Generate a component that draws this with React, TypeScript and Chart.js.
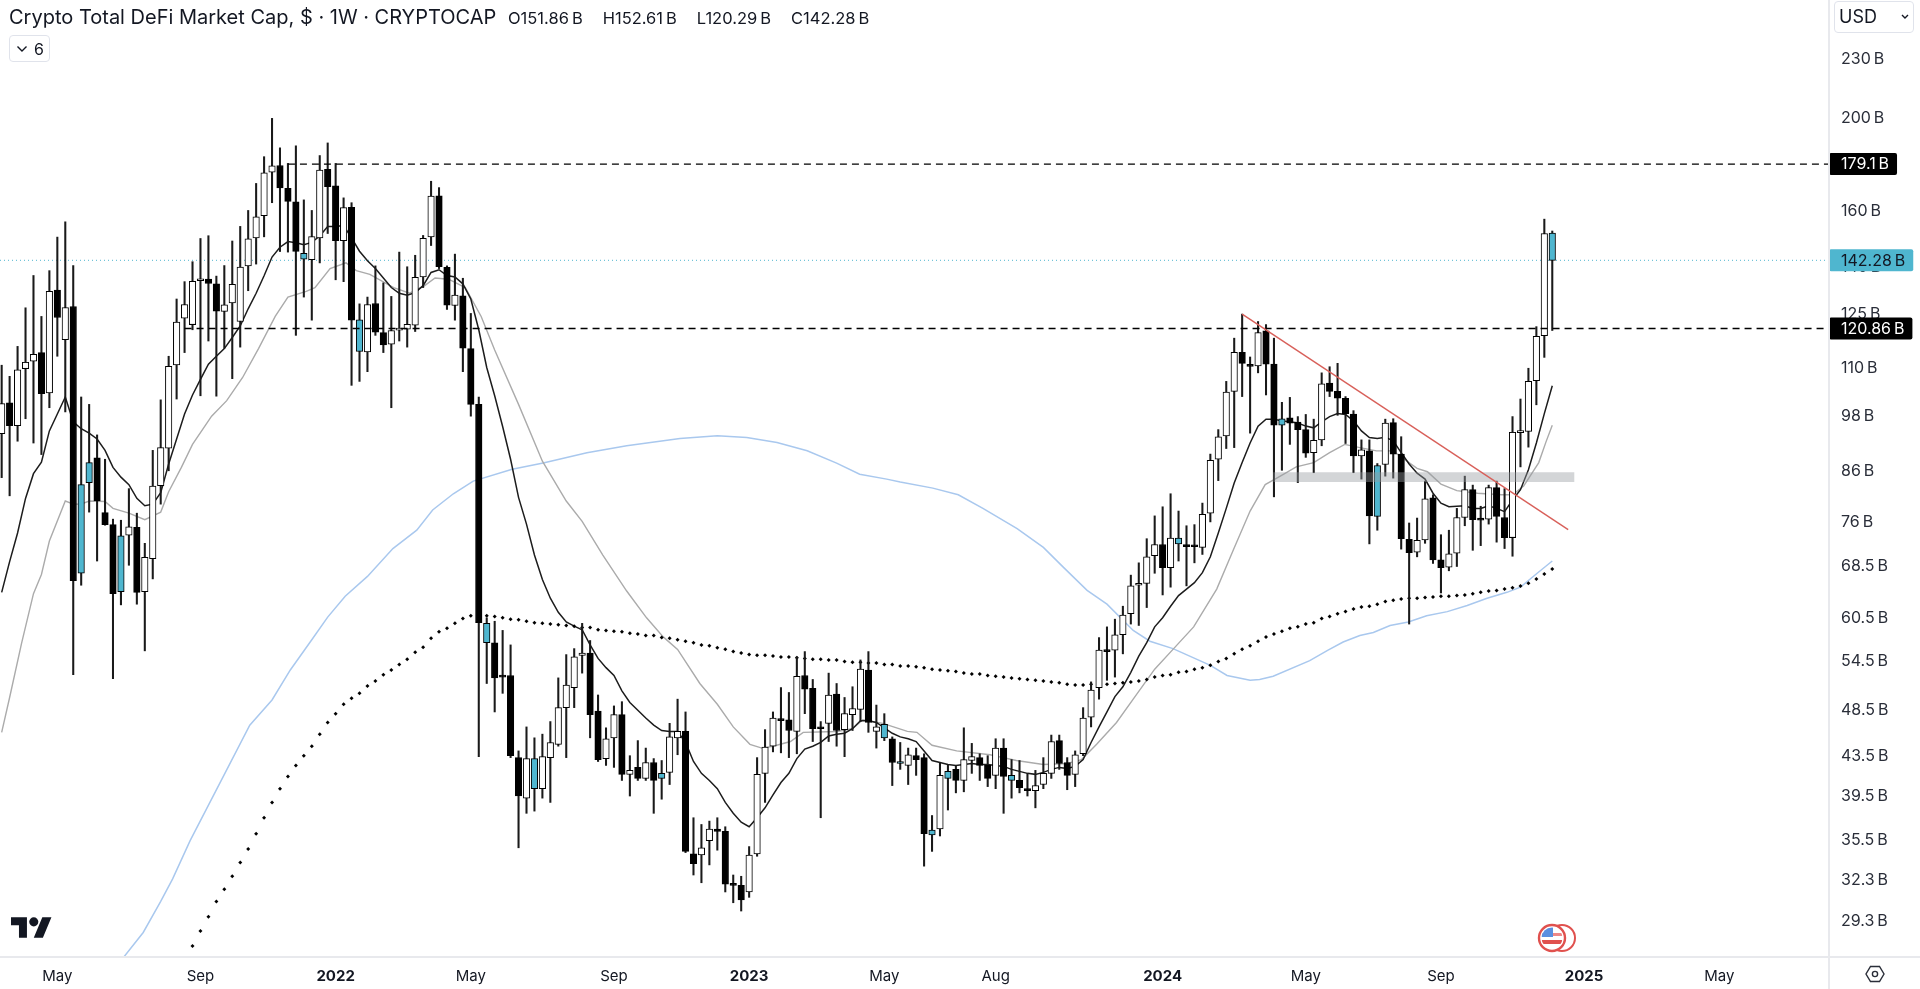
import { useEffect, useRef } from "react";
import { Chart, registerables } from "chart.js";

Chart.register(...registerables);

const FONT = "Inter, 'Noto Sans', sans-serif";
const INK = "#131722";
const TEAL = "#4fb6cf";

// weekly candles, one entry per week, in billions
const opens = [
  94.0,101.2,95.8,109.8,111.8,114.1,103.6,132.5,117.7,127.4,
  83.2,87.7,88.7,77.8,75.6,73.6,73.7,75.1,64.4,69.7,
  83.0,90.8,110.8,123.9,122.0,135.5,136.0,134.5,125.9,128.5,
  122.9,140.4,150.1,158.3,175.7,178.5,169.0,163.6,144.7,142.5,
  150.1,176.9,170.0,149.1,161.5,123.4,114.3,128.3,119.7,116.4,
  120.4,120.7,121.8,136.7,150.5,166.0,139.9,127.7,130.7,115.2,
  100.8,59.7,57.0,52.7,52.7,43.3,39.3,43.2,40.2,43.3,
  44.7,48.8,51.2,55.3,55.6,48.4,43.2,45.4,48.0,41.6,
  42.3,41.2,42.8,41.7,41.8,45.4,46.1,34.4,34.3,35.5,
  36.5,36.3,32.0,31.9,31.4,34.4,41.7,44.5,47.5,47.4,
  46.1,52.7,51.1,46.6,47.0,50.4,46.3,48.0,48.6,53.4,
  46.1,46.9,45.3,42.9,42.5,43.5,43.3,36.4,36.5,41.9,
  42.1,41.0,43.0,43.3,42.5,41.5,44.3,41.5,41.0,40.2,
  40.0,40.6,41.7,45.1,42.8,41.6,43.7,47.7,51.2,56.0,
  56.0,58.1,61.1,65.4,65.7,70.2,72.1,68.2,73.2,72.1,
  71.9,71.6,77.7,88.4,93.5,104.0,114.2,110.8,110.5,120.2,
  111.0,97.4,97.6,96.6,94.9,89.8,92.6,106.1,104.0,102.3,
  98.5,89.1,90.2,87.1,87.3,96.5,89.5,73.0,70.8,72.9,
  80.6,69.5,68.3,70.6,76.9,82.2,76.8,76.6,82.6,76.9,
  73.3,94.2,94.5,106.7,118.8,151.86,
];
const highs = [
  110.7,107.8,115.8,127.0,137.2,124.4,138.8,150.4,156.0,140.5,
  102.6,100.8,93.7,88.4,76.6,76.4,82.4,77.7,72.3,90.3,
  101.9,113.1,129.7,135.2,141.8,149.9,150.9,137.0,140.5,149.0,
  154.3,160.3,171.0,182.3,199.8,186.2,179.4,187.1,164.4,160.3,
  182.8,188.4,179.4,165.2,163.3,128.2,130.3,140.4,134.8,130.5,
  145.1,140.1,144.0,151.0,171.9,169.3,140.4,144.4,136.3,125.3,
  102.6,60.5,60.0,58.7,56.7,44.0,46.6,45.4,45.8,47.2,
  52.4,55.4,56.2,59.7,57.3,50.3,46.5,49.0,49.5,43.5,
  45.1,44.3,43.2,43.0,47.0,49.8,48.3,37.5,36.9,37.2,
  37.5,36.7,32.7,32.6,35.0,43.3,46.3,48.3,51.2,50.6,
  55.1,55.8,52.2,47.2,53.0,51.7,50.0,51.3,54.7,55.8,
  49.1,48.1,45.5,44.9,44.3,44.3,43.7,37.7,42.8,42.6,
  42.5,46.5,44.8,43.7,43.5,45.3,45.3,43.1,43.0,41.7,
  42.0,43.3,45.7,45.7,43.3,44.0,48.8,51.9,57.7,59.2,
  60.3,62.2,67.0,69.0,73.1,77.2,78.9,81.4,78.1,75.4,
  75.6,79.6,89.5,94.9,106.5,118.1,125.1,112.9,122.9,122.0,
  118.1,101.3,102.5,97.9,98.4,97.3,108.7,110.3,111.2,102.7,
  99.3,92.6,92.6,87.5,97.3,97.4,93.3,75.9,76.8,83.9,
  81.2,73.8,74.6,78.6,84.9,83.1,79.0,83.1,83.9,82.4,
  97.9,102.1,109.9,121.4,157.0,152.61,
];
const lows = [
  84.6,81.0,92.3,97.4,91.9,89.4,100.0,113.1,99.0,52.8,
  65.4,77.9,69.3,75.5,52.3,62.4,68.6,62.5,55.9,66.4,
  79.4,86.0,102.1,114.1,120.5,102.9,117.3,102.8,115.3,107.2,
  115.6,132.3,141.0,150.5,163.3,145.3,145.1,118.9,130.3,123.3,
  141.4,151.7,135.8,135.2,105.5,106.5,109.0,118.9,114.1,100.0,
  117.3,115.6,120.0,133.3,147.4,139.5,126.5,123.3,109.0,98.0,
  43.4,51.7,48.3,50.5,43.3,34.9,37.9,38.1,39.3,38.9,
  44.5,43.3,48.8,53.0,45.4,42.9,42.5,42.3,41.0,39.5,
  41.0,41.0,37.9,39.2,40.6,43.6,34.5,32.7,32.1,33.5,
  34.7,31.4,30.6,30.0,31.0,34.2,38.9,43.9,43.8,43.3,
  43.7,48.1,45.0,37.5,45.0,44.5,43.4,46.2,47.2,46.0,
  44.3,45.1,40.5,42.1,40.6,41.5,33.4,34.6,35.9,38.2,
  39.8,39.9,41.7,41.0,40.4,40.2,37.9,39.3,39.8,39.5,
  38.4,40.2,41.2,42.1,40.1,40.4,43.5,46.6,49.8,52.1,
  52.5,55.5,59.6,59.4,62.0,67.3,63.9,65.1,69.3,65.3,
  69.0,70.4,76.1,84.0,90.7,90.9,102.7,94.1,108.7,103.1,
  80.8,86.1,91.6,83.6,88.8,85.6,91.3,102.7,98.2,91.8,
  85.6,84.3,72.2,74.6,84.9,84.5,71.3,59.6,70.0,72.3,
  68.9,64.2,67.7,68.4,75.4,71.1,71.9,75.7,72.5,71.4,
  70.1,86.8,91.0,100.7,112.8,120.29,
];
const closes = [
  101.0,95.8,109.5,111.5,113.6,103.4,132.1,124.1,127.1,66.1,
  67.3,83.6,80.0,75.6,64.1,64.4,75.2,64.3,69.9,82.9,
  90.9,110.4,122.7,128.0,135.3,135.9,134.6,126.0,127.9,134.3,
  140.0,149.8,157.9,175.4,178.4,169.2,163.8,145.3,142.7,150.6,
  176.6,169.7,149.1,161.4,123.3,114.4,128.0,119.8,116.2,120.3,
  120.8,122.1,136.6,150.0,165.9,140.1,127.8,130.9,115.3,100.8,
  59.8,57.0,52.4,52.5,43.5,39.5,43.2,40.2,43.4,44.9,
  48.8,51.5,55.1,55.6,48.0,43.1,45.3,48.0,41.6,42.0,
  41.2,42.8,41.0,41.2,45.5,46.1,34.6,33.6,34.9,36.5,
  36.3,32.0,31.9,30.8,34.3,41.6,44.4,47.6,47.3,46.2,
  52.6,51.0,46.4,46.4,50.3,46.2,48.1,48.7,53.5,47.1,
  46.6,45.4,42.8,42.7,43.6,43.1,36.1,36.0,41.5,41.2,
  41.0,43.1,43.4,42.5,41.2,44.3,41.4,41.0,40.3,40.0,
  40.5,41.7,45.0,42.7,41.5,43.6,47.6,50.9,56.0,55.8,
  58.1,60.9,65.3,65.6,70.0,72.1,68.2,73.2,72.2,71.7,
  71.7,77.5,88.2,93.3,103.8,114.2,111.2,110.4,119.7,111.0,
  95.9,95.9,96.4,94.9,89.7,92.5,105.9,104.0,102.3,98.6,
  89.1,90.4,77.2,77.1,96.4,89.5,73.1,70.7,72.8,80.4,
  69.5,68.2,70.5,76.9,82.2,76.5,76.4,82.6,77.1,73.3,
  94.3,94.4,106.5,118.6,151.7,142.28,
];
// weeks painted teal instead of black
const tealWeeks = [10,11,15,38,45,61,67,83,111,113,117,119,127,148,161,173,195];

// short moving average, one value per week
const fastMa = [
  64.3,69.2,74.1,80.5,85.4,87.8,94.6,98.5,102.6,96.7,
  95.1,94.1,92.8,90.3,86.7,84.7,83.2,80.5,79.1,79.4,
  81.6,87.4,92.8,98.5,103.1,107.0,111.0,113.1,115.2,118.3,
  121.6,126.7,131.5,137.1,143.4,146.8,148.8,148.4,147.7,148.5,
  150.8,154.3,154.3,154.6,150.1,145.4,142.1,139.5,136.4,133.3,
  131.5,130.9,131.7,133.9,138.2,139.1,137.2,136.7,134.5,129.7,
  120.5,110.1,102.9,95.6,88.4,80.7,75.7,70.3,66.3,63.4,
  61.3,59.9,59.3,58.8,56.7,54.9,53.7,52.7,50.8,49.4,
  48.5,47.6,46.8,46.2,46.1,46.1,44.9,42.9,41.7,41.0,
  40.2,38.9,37.9,37.1,36.7,37.5,38.4,39.6,40.8,41.7,
  43.2,44.2,44.5,44.9,45.6,45.8,45.9,46.4,47.3,47.3,
  47.1,46.5,45.9,45.5,45.3,45.0,44.0,43.0,42.8,42.6,
  42.5,42.6,42.7,42.6,42.6,42.5,42.4,42.1,41.9,41.7,
  41.6,41.8,42.1,42.3,42.2,42.4,43.1,44.9,46.6,48.3,
  50.1,51.3,53.1,55.2,57.0,59.2,60.5,62.2,63.8,64.8,
  65.8,67.4,70.0,74.1,78.6,83.5,87.7,91.9,95.7,97.3,
  97.3,96.9,96.7,96.4,95.7,95.3,96.7,97.9,98.6,98.4,
  96.9,94.6,93.1,92.9,93.2,92.4,89.8,87.4,85.5,84.3,
  81.5,79.6,78.9,79.0,79.1,78.6,78.6,79.1,78.6,78.0,
  80.2,82.2,86.2,91.9,98.6,105.4,
];

// longer moving average, read at its bends
const slowWeeks = [
  0,1,2.5,4,5,6,8,9,10,11,13,14,16,18,20,21,22.6,24,26.4,28.3,30.3,32.3,34.4,36,38.3,39.4,41.3,43.3,44.6,46.3,49.3,
  51.3,53.2,54.5,56.2,58.3,60.3,62,65,68,71,73,75.6,78.6,81.1,83.2,85,87.8,90,92,94.1,95.6,97,99.2,100.8,105,107,
  108.3,110.8,113.9,115.1,117,120.1,124.3,127.6,131,134,135.8,137.7,140.2,142.3,145,147.3,149.9,152.8,154.9,157,
  158.9,160.8,162.8,165,167,168.9,170.8,172.9,175,176.3,178,179.3,181,183,185.6,188.6,190,191.4,193.3,194.2,195,
];
const slowMa = [
  46.0,50.0,56.9,64.1,67.1,72.7,80.0,79.4,79.4,80.0,79.9,78.6,77.7,76.5,77.9,81.8,86.7,91.6,98.0,101.7,107.5,115.2,124.4,130.3,132.1,133.3,139.5,141.4,138.8,137.6,133.3,
  131.5,133.9,136.4,136.0,133.3,124.4,114.8,100.8,88.0,80.0,76.2,70.3,64.5,60.5,57.8,56.1,51.7,49.2,46.6,44.7,44.3,44.5,45.0,46.0,46.1,46.4,
  47.4,47.0,46.1,46.0,44.6,44.0,43.6,43.0,42.6,42.7,43.1,44.7,47.1,49.8,53.5,56.1,59.2,64.8,71.2,78.1,
  83.2,84.9,86.8,87.7,89.8,91.6,90.9,90.2,90.2,88.5,86.5,85.8,83.3,82.0,81.5,81.2,81.2,82.9,87.7,92.1,95.9,
];

// long moving average (blue)
const longWeeks = [
  15.4,17.8,20,21.5,23.7,28.2,31.2,34,36.3,39,41,43.2,46,49.2,52.2,54.2,56.8,59.3,64.2,68.1,73.6,78.6,85.3,90,93.7,
  97.5,101.3,105,107.9,111.3,113,117.1,120.3,123.4,127.7,131,133.5,136.5,139,142.3,144.4,147.3,152,154.1,157,158.2,
  159.9,164.5,166.8,168.7,170.8,172.5,174.6,176.9,179.2,181.8,184.3,186.8,189.3,191,193.1,195,
];
const longMa = [
  26.9,28.5,30.7,32.4,35.5,41.9,46.8,49.7,53.4,57.4,60.6,63.7,66.8,71.4,74.6,78.3,81.4,83.9,86.3,87.6,89.8,91.3,92.9,93.5,93.1,
  92.0,90.2,87.6,85.3,84.3,83.7,82.5,81.2,78.6,74.9,71.6,68.3,64.6,62.5,58.7,57.2,56.2,54.0,52.7,52.1,52.2,
  52.6,54.6,56.0,57.1,58.0,58.4,59.4,59.9,60.8,61.4,62.3,63.4,64.3,65.1,67.3,69.3,
];

// dotted average starts on this week, then one value per week
const dottedStart = 24;
const dottedMa = [
  27.6,28.6,29.6,30.7,31.6,32.6,33.7,34.8,36.1,37.5,38.9,40.2,41.4,42.5,43.5,44.5,45.8,47.1,48.1,49.2,49.9,50.5,51.4,
  52.0,52.8,53.4,54.1,54.8,55.7,56.4,57.6,58.5,59.0,59.7,60.4,60.8,
  60.8,60.8,60.7,60.5,60.3,60.2,60.0,59.8,59.7,59.6,59.5,59.4,59.3,59.1,59.1,58.8,58.7,58.6,58.5,58.3,58.2,58.0,58.0,57.7,
  57.6,57.4,57.2,57.0,56.7,56.6,56.3,56.1,55.8,55.6,55.4,55.3,55.3,55.2,55.1,55.1,55.0,54.9,54.8,54.8,54.7,54.7,54.5,54.4,
  54.4,54.3,54.3,54.1,54.1,53.9,53.9,53.8,
  53.7,53.5,53.4,53.3,53.2,53.0,52.9,52.9,52.7,52.6,52.5,52.4,52.3,52.2,52.1,52.0,51.9,51.8,51.6,51.5,51.5,51.6,51.6,51.6,
  51.7,51.8,51.9,52.0,52.2,52.5,52.7,52.8,53.1,53.2,53.5,53.7,54.0,54.5,54.9,55.5,
  56.1,56.6,57.2,57.8,58.2,58.6,59.0,59.2,59.6,59.8,60.4,60.7,61.1,61.4,61.8,62.1,62.2,62.5,62.9,63.1,63.3,63.4,63.4,63.5,
  63.6,63.7,63.7,63.8,63.9,64.1,64.3,64.5,64.6,64.8,65.0,65.3,65.7,66.4,67.2,68.0,
];

// drawings
const trendWeeks = [156, 197];
const trendValues = [125.1, 74.7];
const zoneWeeks = [159.9, 197.8];
const zoneTop = 85.7;
const zoneBottom = 83.7;
const upperLevel = 179.1;
const upperLevelFrom = 36;
const lowerLevel = 120.86;
const lowerLevelFrom = 23;
const lastPrice = 142.28;

// axes
const priceTicks = [230,200,160,140,125,110,98,86,76,68.5,60.5,54.5,48.5,43.5,39.5,35.5,32.3,29.3];
const timeTickWeeks = [7,25,42,59,77,94,111,125,146,164,181,199,216];
const timeTickLabels = ["May","Sep","2022","May","Sep","2023","May","Aug","2024","May","Sep","2025","May"];
const ohlcLabels = ["O151.86\u2009B", "H152.61\u2009B", "L120.29\u2009B", "C142.28\u2009B"];
const WEEK_MIN = -0.21;
const WEEK_MAX = 229.8;
const PRICE_MIN = 26.94;
const PRICE_MAX = 265.2;

const priceTags = [
  { value: upperLevel, label: "179.1\u2009B", bg: "#000", fg: "#fff" },
  { value: lastPrice, label: "142.28\u2009B", bg: TEAL, fg: INK },
  { value: lowerLevel, label: "120.86\u2009B", bg: "#000", fg: "#fff" },
];

const tagPlugin = {
  id: "priceTags",
  afterDraw(chart: any) {
    const { ctx, scales, chartArea } = chart;
    ctx.save();
    ctx.font = `16px ${FONT}`;
    ctx.textBaseline = "middle";
    ctx.textAlign = "left";
    priceTags.forEach((t) => {
      const y = scales.y.getPixelForValue(t.value);
      const w = ctx.measureText(t.label).width + 20;
      ctx.fillStyle = t.bg;
      ctx.beginPath();
      ctx.roundRect(chartArea.right, y - 11, w, 22, 2);
      ctx.fill();
      ctx.fillStyle = t.fg;
      ctx.fillText(t.label, chartArea.right + 12, y + 0.5);
    });
    ctx.restore();
  },
};

const flat = (from: number, value: number) => [
  { x: from, y: value },
  { x: WEEK_MAX, y: value },
];

function PriceChart() {
  const canvasRef = useRef<HTMLCanvasElement | null>(null);

  useEffect(() => {
    if (!canvasRef.current) return;
    const ctx = canvasRef.current.getContext("2d");
    if (!ctx) return;

    const weeks = opens.map((_, i) => i);
    const bodyFill = weeks.map((i) => {
      if (tealWeeks.includes(i)) return TEAL;
      return closes[i] >= opens[i] ? "#ffffff" : "#000000";
    });

    const chart = new Chart(ctx, {
      type: "line",
      data: {
        datasets: [
          {
            type: "line",
            data: flat(WEEK_MIN, lastPrice),
            borderColor: TEAL,
            borderWidth: 1,
            borderDash: [1, 3],
            pointRadius: 0,
            order: 12,
          },
          {
            type: "line",
            data: longWeeks.map((x, i) => ({ x, y: longMa[i] })),
            borderColor: "#a9c8ee",
            borderWidth: 1.5,
            pointRadius: 0,
            order: 11,
          },
          {
            type: "line",
            data: slowWeeks.map((x, i) => ({ x, y: slowMa[i] })),
            borderColor: "#ababab",
            borderWidth: 1.4,
            pointRadius: 0,
            order: 10,
          },
          {
            type: "line",
            data: weeks.map((x) => ({ x, y: fastMa[x] })),
            borderColor: "#1c1c1c",
            borderWidth: 1.5,
            pointRadius: 0,
            order: 9,
          },
          {
            type: "line",
            data: dottedMa.map((y, i) => ({ x: dottedStart + i, y })),
            showLine: false,
            pointStyle: "rectRot",
            pointRadius: 2,
            pointBackgroundColor: "#000",
            pointBorderWidth: 0,
            order: 8,
          },
          {
            type: "bar",
            data: weeks.map((x) => ({ x, y: [lows[x], highs[x]] })),
            backgroundColor: "#1a1a1a",
            barThickness: 1.4,
            grouped: false,
            order: 7,
          },
          {
            type: "bar",
            data: weeks.map((x) => ({ x, y: [opens[x], closes[x]] })),
            backgroundColor: bodyFill,
            borderColor: "#000",
            borderWidth: 1,
            borderSkipped: false,
            barThickness: 6.5,
            minBarLength: 2,
            grouped: false,
            order: 6,
          },
          {
            type: "line",
            data: zoneWeeks.map((x) => ({ x, y: zoneTop })),
            borderWidth: 0,
            pointRadius: 0,
            backgroundColor: "rgba(150,155,160,0.42)",
            fill: "+1",
            order: 5,
          },
          {
            type: "line",
            data: zoneWeeks.map((x) => ({ x, y: zoneBottom })),
            borderWidth: 0,
            pointRadius: 0,
            order: 5,
          },
          {
            type: "line",
            data: flat(upperLevelFrom, upperLevel),
            borderColor: "#000",
            borderWidth: 1.4,
            borderDash: [7, 5],
            pointRadius: 0,
            order: 4,
          },
          {
            type: "line",
            data: flat(lowerLevelFrom, lowerLevel),
            borderColor: "#000",
            borderWidth: 1.4,
            borderDash: [7, 5],
            pointRadius: 0,
            order: 3,
          },
          {
            type: "line",
            data: trendWeeks.map((x, i) => ({ x, y: trendValues[i] })),
            borderColor: "#d8605a",
            borderWidth: 1.4,
            pointRadius: 0,
            order: 2,
          },
        ] as any,
      },
      options: {
        animation: false,
        responsive: false,
        devicePixelRatio: 1,
        layout: { padding: 0, autoPadding: false },
        plugins: { legend: { display: false }, tooltip: { enabled: false } },
        scales: {
          x: {
            type: "linear",
            offset: false,
            min: WEEK_MIN,
            max: WEEK_MAX,
            grid: { display: false, drawTicks: false },
            border: { display: false },
            afterFit: (s: any) => {
              s.height = 33;
              s.paddingLeft = 0;
              s.paddingRight = 0;
            },
            afterBuildTicks: (s: any) => {
              s.ticks = timeTickWeeks.map((value) => ({ value }));
            },
            ticks: {
              autoSkip: false,
              maxRotation: 0,
              padding: 11,
              color: INK,
              font: (c: any) => ({
                family: FONT,
                size: 15,
                weight: /^\d+$/.test(String(c.tick?.label)) ? "bold" : "normal",
              }),
              callback: (v: any) => timeTickLabels[timeTickWeeks.indexOf(Number(v))] ?? "",
            },
          },
          y: {
            type: "logarithmic",
            position: "right",
            offset: false,
            min: PRICE_MIN,
            max: PRICE_MAX,
            grid: { display: false, drawTicks: false },
            border: { display: false },
            afterFit: (s: any) => {
              s.width = 91;
              s.paddingTop = 0;
              s.paddingBottom = 0;
            },
            afterBuildTicks: (s: any) => {
              s.ticks = priceTicks.map((value) => ({ value }));
            },
            ticks: {
              autoSkip: false,
              padding: 12,
              color: "#2a2e39",
              font: { family: FONT, size: 16 },
              callback: (v: any) => `${v}\u2009B`,
            },
          },
        },
      },
      plugins: [tagPlugin],
    } as any);

    return () => chart.destroy();
  }, []);

  return <canvas ref={canvasRef} width={1920} height={989} style={{ display: "block", position: "absolute", left: 0, top: 0 }} />;
}

export default function App() {
  return (
    <div style={{ position: "fixed", left: 0, top: 0, width: 1920, height: 989, background: "#fff", overflow: "hidden", fontFamily: FONT, color: INK }}>
      <PriceChart />

      {/* axis rules */}
      <div style={{ position: "absolute", left: 1828, top: 0, width: 2, height: 989, background: "#e8e9ed" }} />
      <div style={{ position: "absolute", left: 0, top: 956, width: 1920, height: 2, background: "#e8e9ed" }} />

      {/* legend row */}
      <div style={{ position: "absolute", left: 9, top: 4, fontSize: 20, lineHeight: "26px", whiteSpace: "nowrap" }}>
        Crypto Total DeFi Market Cap, $ · 1W · CRYPTOCAP
      </div>
      <div style={{ position: "absolute", left: 508, top: 6, display: "flex", gap: 20, fontSize: 16.5, lineHeight: "24px", whiteSpace: "nowrap" }}>
        {ohlcLabels.map((t) => (
          <span key={t}>{t}</span>
        ))}
      </div>

      {/* collapsed indicators */}
      <div style={{ position: "absolute", left: 9, top: 35, width: 41, height: 27, boxSizing: "border-box", border: "1px solid #e0e3eb", borderRadius: 4, display: "flex", alignItems: "center", fontSize: 16 }}>
        <svg width="12" height="8" viewBox="0 0 12 8" style={{ marginLeft: 6, marginRight: 6 }}>
          <path d="M1.5 1.5 L6 6 L10.5 1.5" fill="none" stroke={INK} strokeWidth="1.4" />
        </svg>
        6
      </div>

      {/* currency */}
      <div style={{ position: "absolute", left: 1834, top: 1, width: 80, height: 32, boxSizing: "border-box", border: "1px solid #e0e3eb", borderRadius: 4, fontSize: 18, lineHeight: "30px", paddingLeft: 4 }}>
        USD
        <svg width="8" height="6" viewBox="0 0 8 6" style={{ position: "absolute", right: 4, top: 12 }}>
          <path d="M1 1 L4 4 L7 1" fill="none" stroke={INK} strokeWidth="1.4" />
        </svg>
      </div>

      {/* logo */}
      <svg width="41" height="22" viewBox="0 0 36 19" style={{ position: "absolute", left: 11, top: 916 }}>
        <path d="M14 19H7V8H0V1h14v18zM28 19h-8l7.5-18h8L28 19z" fill={INK} />
        <circle cx="20" cy="5" r="4" fill={INK} />
      </svg>

      {/* economic event badge */}
      <svg width="40" height="30" viewBox="0 0 40 30" style={{ position: "absolute", left: 1537, top: 923 }}>
        <circle cx="25" cy="15" r="13" fill="#fff" stroke="#e0514e" strokeWidth="2" />
        <circle cx="15" cy="15" r="13" fill="#fff" stroke="#e0514e" strokeWidth="2.4" />
        <clipPath id="badge">
          <circle cx="15" cy="15" r="10.5" />
        </clipPath>
        <g clipPath="url(#badge)">
          <rect x="3" y="4" width="24" height="22" fill="#fff" />
          <rect x="3" y="17" width="24" height="4" fill="#e0514e" />
          <rect x="3" y="10" width="24" height="3" fill="#e88" />
          <rect x="3" y="3" width="13" height="11" fill="#5a8fe0" />
        </g>
      </svg>

      {/* settings */}
      <svg width="20" height="18" viewBox="0 0 20 18" style={{ position: "absolute", left: 1865, top: 965 }}>
        <path d="M5.5 1.5 H14.5 L19 9 L14.5 16.5 H5.5 L1 9 Z" fill="none" stroke="#2a2e39" strokeWidth="1.4" />
        <circle cx="10" cy="9" r="2.6" fill="none" stroke="#2a2e39" strokeWidth="1.4" />
      </svg>
    </div>
  );
}
